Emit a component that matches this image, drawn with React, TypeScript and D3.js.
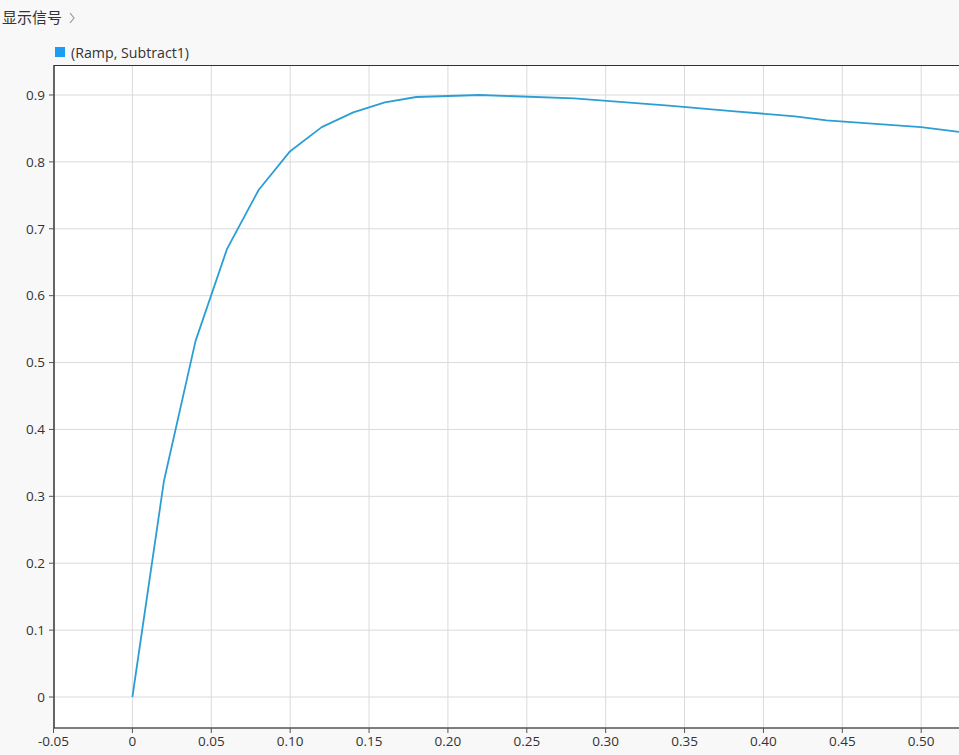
import React from "react";
import * as d3 from "d3";

const timeValues = [0, 0.02, 0.04, 0.06, 0.08, 0.1, 0.12, 0.14, 0.16, 0.18, 0.22, 0.28, 0.34, 0.38, 0.42, 0.44, 0.5, 0.54];
const signalValues = [0, 0.323, 0.532, 0.67, 0.758, 0.816, 0.852, 0.874, 0.889, 0.897, 0.9, 0.895, 0.884, 0.876, 0.868, 0.862, 0.852, 0.84];
const xTicks = [-0.05, 0, 0.05, 0.1, 0.15, 0.2, 0.25, 0.3, 0.35, 0.4, 0.45, 0.5];
const xTickLabels = ["-0.05", "0", "0.05", "0.10", "0.15", "0.20", "0.25", "0.30", "0.35", "0.40", "0.45", "0.50"];
const yTicks = [0, 0.1, 0.2, 0.3, 0.4, 0.5, 0.6, 0.7, 0.8, 0.9];
const yTickLabels = ["0", "0.1", "0.2", "0.3", "0.4", "0.5", "0.6", "0.7", "0.8", "0.9"];
const seriesName = "(Ramp, Subtract1)";
const headerTitle = "显示信号";

export default function App() {
  const W = 959, H = 755;
  const left = 54, top = 65, bottom = 728;
  const x = d3.scaleLinear().domain([0, 0.5]).range([132.4, 921.2]);
  const y = d3.scaleLinear().domain([0, 0.9]).range([697, 95]);
  const right = W + 20;
  const pts = timeValues.map((t, i) => [t, signalValues[i]] as [number, number]);
  const line = d3.line<[number, number]>().x(d => x(d[0])).y(d => y(d[1]));
  const font = "'Segoe UI', 'Open Sans', 'Noto Sans', 'Noto Sans CJK SC', sans-serif";
  return (
    <svg width={W} height={H} style={{ position: "absolute", left: 0, top: 0, background: "#f8f8f8" }} fontFamily={font}>
      <defs>
        <clipPath id="plotclip">
          <rect x={left} y={top} width={right - left} height={bottom - top} />
        </clipPath>
      </defs>
      <text x={2} y={23} fontSize={15} fill="#333" fontFamily="'Noto Sans CJK SC', sans-serif">{headerTitle}</text>
      <path d="M70,13 L74,18 L70,23" fill="none" stroke="#999" strokeWidth={1.2} />
      <rect x={55} y={47} width={10} height={10} fill="#1d9cf0" />
      <text x={71} y={57.5} fontSize={14.2} fill="#333">{seriesName}</text>
      <rect x={left} y={top} width={right - left} height={bottom - top} fill="#fff" />
      <g clipPath="url(#plotclip)">
        {xTicks.map((t, i) => (
          <line key={"gx" + i} x1={x(t)} x2={x(t)} y1={top} y2={bottom} stroke="#dadada" strokeWidth={1} />
        ))}
        {yTicks.map((t, i) => (
          <line key={"gy" + i} x1={left} x2={right} y1={y(t)} y2={y(t)} stroke="#dadada" strokeWidth={1} />
        ))}
        <path d={line(pts) || ""} fill="none" stroke="#2b9fd4" strokeWidth={1.8} strokeLinejoin="round" />
      </g>
      <line x1={left} x2={right} y1={top + 0.5} y2={top + 0.5} stroke="#333" strokeWidth={1.2} />
      <line x1={left} x2={right} y1={bottom} y2={bottom} stroke="#555" strokeWidth={1.5} />
      <line x1={left} x2={left} y1={top} y2={bottom} stroke="#333" strokeWidth={1.5} />
      {yTicks.map((t, i) => (
        <g key={"yt" + i}>
          <line x1={left - 5} x2={left} y1={y(t)} y2={y(t)} stroke="#555" />
          <text x={left - 9} y={y(t)} dy="0.35em" textAnchor="end" fontSize={13.5} fill="#333">{yTickLabels[i]}</text>
        </g>
      ))}
      {xTicks.map((t, i) => (
        <g key={"xt" + i}>
          <line x1={x(t)} x2={x(t)} y1={bottom} y2={bottom + 5} stroke="#555" />
          <text x={x(t)} y={bottom + 18} textAnchor="middle" fontSize={13.5} fill="#333">{xTickLabels[i]}</text>
        </g>
      ))}
    </svg>
  );
}
